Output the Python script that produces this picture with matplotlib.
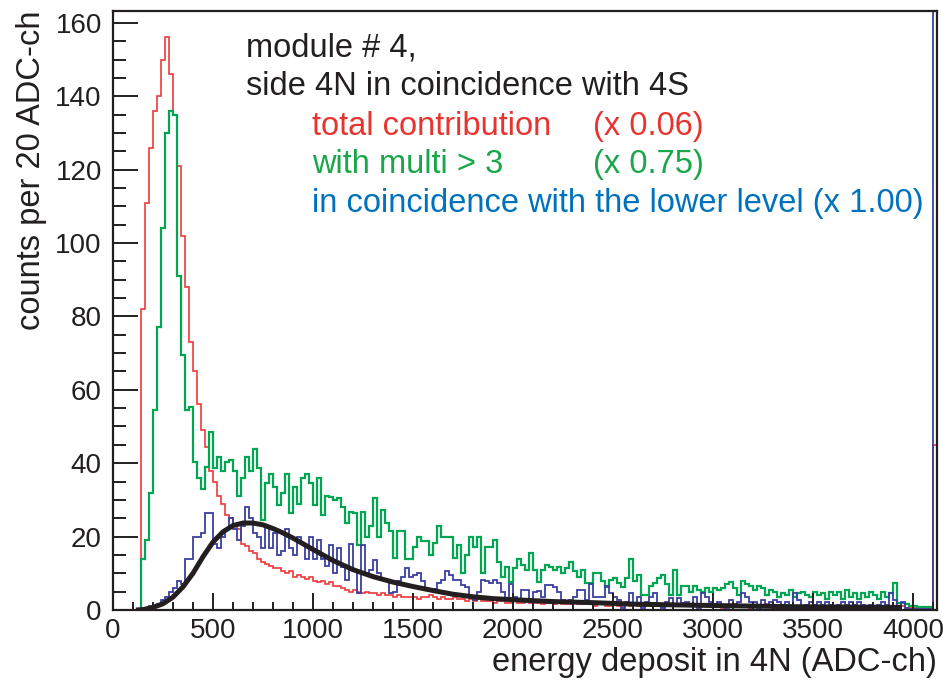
import matplotlib.pyplot as plt
import numpy as np

plt.rcParams['font.family'] = ['Liberation Sans', 'DejaVu Sans']

# 20 ADC-ch bins, first bin starts at 140
first_edge = 140
bin_width = 20

red_counts = [
    82, 111, 126, 136, 140, 150, 156, 146, 135, 121,
    102, 88, 73, 65, 56, 49, 44.5, 38, 35, 31,
    29, 26, 25, 23, 22, 18, 17.5, 16, 15.5, 14,
    13, 12.5, 12, 11.5, 11.5, 10.5, 10, 10.5, 9, 9.5,
    9, 8.5, 9, 8, 7.5, 8, 7, 7.5, 6.5, 6.5,
    6, 5.5, 5, 5.5, 5, 4.5, 5, 4.5, 4.5, 4,
    4.5, 4, 4, 3.5, 4, 3.5, 3.5, 3.5, 3.5, 3,
    3.5, 3.5, 4, 3.5, 3, 3.5, 3, 3, 3.5, 3,
    3, 2.5, 3, 2.5, 3, 2.5, 2.5, 2.5, 2, 2.5,
    2.5, 2, 2, 2.5, 2, 2, 2.5, 2, 2, 2,
    1.5, 2, 2, 1.5, 2, 1.5, 1.5, 1.5, 2, 1.5,
    1.5, 1.5, 1.5, 1, 1.5, 1.5, 1, 1, 1.5, 1,
    1, 1.5, 1, 1.5, 1, 1, 1.5, 1, 1, 1.5,
    1, 1, 1.5, 1, 1, 1, 1.5, 1, 1, 1,
    1, 1.5, 1, 1, 1, 0.5, 1, 1, 1.5, 1,
    1, 1, 0.5, 1, 1, 1, 1.5, 1, 0.5, 1,
    1, 0.5, 1, 1, 1, 0.5, 1, 1, 0.5, 1,
    1, 0.5, 1, 1, 0.5, 1, 1, 0.5, 1, 1,
    0.5, 1, 1, 0.5, 1, 1, 0.5, 1, 1, 0.5,
    1, 0.5, 0.5, 0.5, 0.5, 0.5, 0.5, 0.5, 45,
]

green_counts = [
    14, 19, 32, 54.5, 77, 104, 130, 136, 135, 91,
    69.5, 54.5, 55.4, 40.4, 36, 33, 39, 48.6, 38.7, 41.8,
    38, 40.4, 41, 38, 31, 36, 41.8, 38, 44, 38.8,
    24.5, 34.5, 37, 33.6, 28.6, 32, 37, 26.3, 33.6, 29,
    36, 37, 34.5, 28.6, 36, 26, 31, 30.8, 30, 30.4,
    28, 23.6, 26.8, 26.3, 17.7, 26.8, 20, 22.9, 30.4, 20,
    27.2, 23.6, 21.4, 14.1, 21.4, 21.4, 14, 14, 17.3, 20,
    18.7, 18.7, 15, 18.2, 22.9, 20, 20, 20, 14.1, 17.7,
    10, 15, 20, 17.3, 20, 10, 17.3, 17.3, 19, 13.2,
    9.1, 11.8, 7.7, 11.4, 13.8, 12.3, 10.9, 15.4, 10.9, 7.5,
    10.9, 12.3, 11.8, 10.9, 11.8, 10, 11.4, 13.2, 10.5, 9.1,
    10.9, 7.3, 7.3, 10, 10, 8, 6.4, 8.2, 8.6, 7.3,
    6.4, 8.6, 14, 8, 9.5, 4, 4, 6.5, 7.3, 8.6,
    9.5, 7, 4, 10.9, 4, 6.5, 6.5, 5, 6.5, 5.5,
    5, 6, 5, 6, 5.5, 6, 7, 7.5, 6, 4,
    8, 7, 6.5, 5.5, 6.5, 6, 4, 5.5, 5, 3.5,
    4.5, 4, 5.5, 3.5, 4.5, 5, 4, 3.5, 5, 4,
    4.5, 3, 5, 4, 5, 3, 5.5, 3.5, 4.5, 3,
    4.5, 3.5, 5, 4, 3, 5, 3.5, 4.5, 7.3, 2,
    1.8, 1.5, 1, 1, 0.8, 0.8, 0.8, 0.8, 0,
]

blue_counts = [
    0.5, 0.5, 1, 1, 1.5, 2.7, 3.6, 5, 6, 8,
    7, 14, 14, 20, 20, 21, 26.3, 26.3, 18, 17,
    20, 22, 25, 22, 19, 23, 28, 25, 21, 20,
    17, 23, 17, 21, 15, 16, 22, 17, 15, 20,
    18, 14, 20, 14, 19, 14, 12, 17.7, 10, 16.8,
    11.8, 8.2, 18, 10.5, 4.5, 17.7, 10, 10.9, 13.6, 10,
    8.2, 8, 4.5, 5, 8, 9.1, 11.4, 9, 9.5, 10,
    8, 5.8, 5.4, 5.8, 7.3, 8.2, 10.5, 9.5, 8.2, 8.2,
    6.8, 6.4, 3.6, 2.7, 5, 8.2, 7.9, 7.3, 8.2, 7.3,
    5, 2.7, 7, 3.6, 2.7, 5.5, 5.5, 2.7, 5, 5.2,
    3.6, 6.8, 6.8, 6.4, 5, 2.7, 2.3, 2.7, 3.6, 5.5,
    5.5, 2.7, 7, 3.6, 3.6, 3.6, 6.5, 4.5, 3.6, 2.7,
    0.5, 2.3, 4.5, 1.4, 3.6, 0.5, 2.3, 3.6, 4.5, 1.4,
    0.5, 2.3, 3.2, 1.4, 3.2, 1.8, 2.3, 1.4, 3.6, 0.5,
    4.5, 3.6, 2.3, 1.4, 2.3, 1.4, 0.5, 2.7, 1.4, 2.3,
    4.5, 3.6, 2.3, 2.3, 0.5, 2.7, 1.4, 2.3, 2.7, 2.3,
    1.4, 2.3, 0.5, 4.5, 2.7, 0.5, 1.4, 2.3, 1.4, 2.3,
    1.4, 2.3, 1.4, 0.5, 1.4, 2.3, 1.4, 2.3, 1.4, 2.3,
    1.4, 0.5, 1.4, 0.5, 1.4, 2.3, 1.4, 4.5, 2.7, 0.5,
    2.3, 0.5, 0.3, 0.3, 0.3, 0.3, 0.3, 0.3, 300,
]

# fitted curve
fit_adc = [115, 150, 200, 250, 300, 350, 400, 450, 500, 550, 600, 650,
           700, 750, 800, 850, 900, 1000, 1100, 1200, 1300, 1400, 1500,
           1600, 1700, 1800, 1900, 2000, 2200, 2400, 2600, 2900, 3400, 3945]
fit_val = [0, 0.1, 0.7, 1.7, 3.5, 6.3, 10.0, 14.5, 18.5, 21.3, 23.0, 23.7,
           23.7, 23.2, 22.2, 21.0, 19.6, 16.5, 13.5, 11.0, 9.1, 7.6, 6.4,
           5.3, 4.3, 3.6, 3.1, 2.8, 2.3, 2.0, 1.6, 1.3, 0.9, 0.7]

edges = first_edge + bin_width * np.arange(len(red_counts) + 1)

fig = plt.figure(figsize=(9.43, 6.86), dpi=100)
ax = fig.add_axes([0.1198, 0.1108, 0.8738, 0.8736])

ax.stairs(red_counts, edges, color='#ee3a3a', lw=1.2)
ax.stairs(green_counts, edges, color='#00a651', lw=1.6)
ax.stairs(blue_counts, edges, color='#3b3fa0', lw=1.3)
ax.plot(fit_adc, fit_val, color='#231f20', lw=3.6, solid_capstyle='butt')

ax.set_xlim(0, 4120)
ax.set_ylim(0, 163.3)
ax.set_xticks(np.arange(0, 4001, 500))
ax.set_xticks(np.arange(0, 4101, 100), minor=True)
ax.set_yticks(np.arange(0, 161, 20))
ax.set_yticks(np.arange(0, 161, 5), minor=True)

tc = '#231f20'
ax.tick_params(axis='both', which='both', direction='in', colors=tc,
               labelsize=20, width=1.4, top=False, right=False)
ax.tick_params(axis='y', which='major', length=18, pad=8)
ax.tick_params(axis='y', which='minor', length=9)
ax.tick_params(axis='x', which='major', length=12, pad=6)
ax.tick_params(axis='x', which='minor', length=6)
for s in ax.spines.values():
    s.set_linewidth(1.6)
    s.set_color(tc)

ax.set_xlabel('energy deposit in 4N (ADC-ch)', fontsize=23.5, color=tc,
              loc='right', labelpad=2)
ax.set_ylabel('counts per 20 ADC-ch', fontsize=23.5, color=tc,
              loc='top', labelpad=6)

fs = 23.5
ax.text(0.1615, 0.9228, 'module # 4,', transform=ax.transAxes, fontsize=fs,
        color=tc, va='baseline')
ax.text(0.1615, 0.8594, 'side 4N in coincidence with 4S', transform=ax.transAxes,
        fontsize=fs, color=tc, va='baseline')
ax.text(0.2418, 0.7926, 'total contribution', transform=ax.transAxes,
        fontsize=fs, color='#e8342f', va='baseline')
ax.text(0.583, 0.7926, '(x 0.06)', transform=ax.transAxes,
        fontsize=fs, color='#e8342f', va='baseline')
ax.text(0.2418, 0.7292, 'with multi > 3', transform=ax.transAxes,
        fontsize=fs, color='#1aa64a', va='baseline')
ax.text(0.583, 0.7292, '(x 0.75)', transform=ax.transAxes,
        fontsize=fs, color='#1aa64a', va='baseline')
ax.text(0.2418, 0.6641, 'in coincidence with the lower level (x 1.00)',
        transform=ax.transAxes, fontsize=fs, color='#0072bc', va='baseline')

fig.savefig('out.png', dpi=100)
